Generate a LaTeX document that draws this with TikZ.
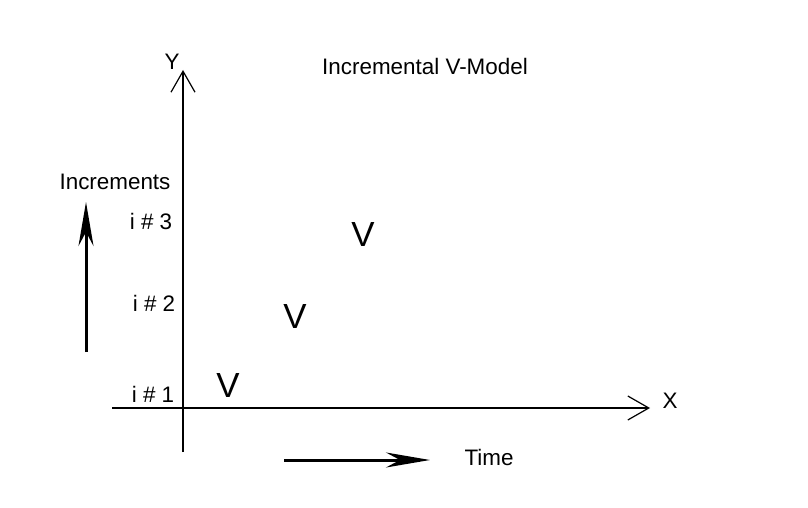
\documentclass[tikz,border=0pt]{standalone}
\usepackage{fontspec}
\setmainfont{Liberation Sans}
\usetikzlibrary{arrows.meta}

\tikzset{
  lbl/.style={font=\fontsize{22.5}{26}\selectfont, inner sep=0pt, anchor=base},
  vee/.style={font=\fontsize{35}{40}\selectfont, inner sep=0pt, anchor=base},
  axis/.style={line width=1.2bp, -{Straight Barb[length=21bp, width=24bp, line width=1.2bp]}},
  bigarrow/.style={line width=3bp, -{Stealth[length=44bp, width=15bp, inset=14bp]}}
}

\begin{document}
\begin{tikzpicture}[x=1bp,y=-1bp]
    \useasboundingbox (0,0) rectangle (808,508);
    % axes
    \coordinate (xstart) at (112,408);
    \coordinate (xend) at (650,408);
    \coordinate (ystart) at (183,452);
    \coordinate (yend) at (183,70);
    \draw [axis] (xstart) -- (xend);
    \draw [axis] (ystart) -- (yend);
    \node [lbl] (xlabel) at (670,408) {X};
    \node [lbl] (ylabel) at (172,70) {Y};
    \node [lbl] (title) at (425,75) {Incremental V-Model};
    % increments
    \node [lbl] (incr) at (115,190) {Increments};
    \coordinate (incrtail) at (86,352);
    \coordinate (incrtip) at (86,202);
    \draw [bigarrow] (incrtail) -- (incrtip);
    \node [lbl] (inc1) at (153,402) {i \# 1};
    \node [lbl] (inc2) at (154,312) {i \# 2};
    \node [lbl] (inc3) at (151,230) {i \# 3};
    % the V's
    \node [vee] (v1) at (228,397) {V};
    \node [vee] (v2) at (295,328) {V};
    \node [vee] (v3) at (363,247) {V};
    % time
    \coordinate (timetail) at (284,460);
    \coordinate (timetip) at (430,460);
    \draw [bigarrow] (timetail) -- (timetip);
    \node [lbl] (time) at (489,465) {Time};
\end{tikzpicture}
\end{document}
